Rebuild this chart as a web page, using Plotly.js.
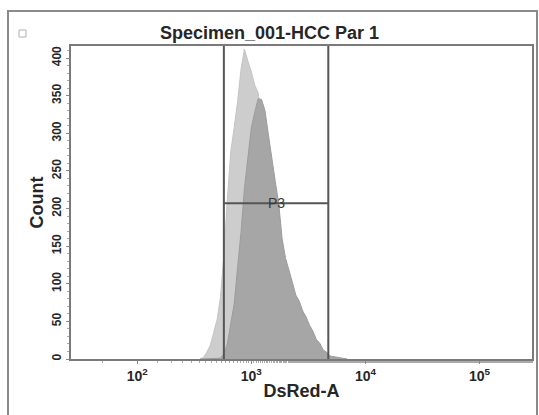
<!DOCTYPE html>
<html>
<head>
<meta charset="utf-8">
<script src="https://cdn.plot.ly/plotly-3.0.1.min.js"></script>
<style>
  html, body { margin: 0; padding: 0; background: #ffffff; }
  #chart { width: 539px; height: 415px; }
</style>
</head>
<body>
<div id="chart"></div>
<script>
// Histogram bin centres (log10 of DsRed-A)
const binLog = [2.55, 2.58, 2.61, 2.64, 2.67, 2.70, 2.73, 2.76, 2.79, 2.82,
                2.85, 2.88, 2.91, 2.94, 2.97, 3.00, 3.03, 3.06, 3.09, 3.12,
                3.15, 3.18, 3.21, 3.24, 3.27, 3.30, 3.33, 3.36, 3.39, 3.42,
                3.45, 3.48, 3.51, 3.54, 3.57, 3.60, 3.63, 3.66, 3.69, 3.72,
                3.75, 3.78, 3.81, 3.84];
// Light grey population (counts)
const countLight = [0, 2, 9, 18, 35, 52, 82, 138, 212, 275,
                    308, 342, 385, 412, 396, 382, 364, 354, 318, 287,
                    248, 217, 183, 157, 126, 107, 84, 69, 53, 43,
                    31, 25, 16, 12, 8, 5, 3, 2, 1, 0,
                    0, 0, 0, 0];
// Dark grey population (counts)
const countDark = [0, 0, 0, 0, 0, 0, 1, 7, 20, 47,
                   73, 122, 168, 227, 268, 307, 328, 346, 345, 330,
                   298, 270, 236, 207, 160, 134, 116, 102, 85, 77,
                   64, 56, 45, 37, 26, 21, 12, 9, 4, 3,
                   2, 2, 1, 0];
// Gate P3
const gateX = [575, 4730];
const gateY = 207;
const gateLabel = "P3";
const gateLabelX = 1656;

const xTickVals = [100, 1000, 10000, 100000];
const xTickText = ["10<sup>2</sup>", "10<sup>3</sup>", "10<sup>4</sup>", "10<sup>5</sup>"];
const yTickVals = [0, 50, 100, 150, 200, 250, 300, 350, 400];

const xs = binLog.map(v => Math.pow(10, v));
const FONT = 'Liberation Sans, Arial, sans-serif';
const TXT = '#262626';

const traces = [
  {
    x: xs, y: countLight, type: 'scatter', mode: 'lines',
    line: { shape: 'linear', width: 1, color: '#c4c4c4' },
    fill: 'tozeroy', fillcolor: '#cdcdcd', hoverinfo: 'skip', showlegend: false
  },
  {
    x: xs, y: countDark, type: 'scatter', mode: 'lines',
    line: { shape: 'linear', width: 1, color: '#9c9c9c' },
    fill: 'tozeroy', fillcolor: '#a6a6a6', hoverinfo: 'skip', showlegend: false
  },
  // gate lines
  { x: [gateX[0], gateX[0]], y: [0, 416], type: 'scatter', mode: 'lines',
    line: { color: '#555555', width: 2 }, hoverinfo: 'skip', showlegend: false },
  { x: [gateX[1], gateX[1]], y: [0, 416], type: 'scatter', mode: 'lines',
    line: { color: '#555555', width: 2 }, hoverinfo: 'skip', showlegend: false },
  { x: gateX, y: [gateY, gateY], type: 'scatter', mode: 'lines',
    line: { color: '#555555', width: 2 }, hoverinfo: 'skip', showlegend: false }
];

const layout = {
  width: 539, height: 415,
  margin: { l: 71, r: 7, t: 46, b: 56 },
  paper_bgcolor: '#ffffff', plot_bgcolor: '#ffffff',
  font: { family: FONT, color: TXT },
  title: {
    text: 'Specimen_001-HCC Par 1',
    font: { size: 18, color: TXT, family: FONT, weight: 'bold' },
    xref: 'container', x: 0.5, xanchor: 'center',
    yref: 'container', y: 1 - 33 / 415, yanchor: 'middle'
  },
  xaxis: {
    type: 'log', range: [1.42, 5.46],
    showgrid: false, zeroline: false,
    showline: true, mirror: true, linecolor: '#7a7a7a', linewidth: 2,
    tickmode: 'array', tickvals: xTickVals, ticktext: xTickText,
    ticks: 'outside', ticklen: 3, tickcolor: '#888888',
    tickfont: { size: 14, color: TXT, weight: 'bold' },
    minor: { ticks: 'outside', ticklen: 2, tickcolor: '#aaaaaa', showgrid: false },
    title: { text: 'DsRed-A', font: { size: 18, color: TXT, weight: 'bold' }, standoff: 2 }
  },
  yaxis: {
    range: [0, 416],
    showgrid: false, zeroline: false,
    showline: true, mirror: true, linecolor: '#7a7a7a', linewidth: 2,
    tickmode: 'array', tickvals: yTickVals,
    tickangle: -90,
    ticks: 'outside', ticklen: 3, tickcolor: '#888888',
    tickfont: { size: 12, color: TXT, weight: 'bold' },
    minor: { dtick: 10, ticks: 'outside', ticklen: 2, tickcolor: '#aaaaaa', showgrid: false },
    title: { text: 'Count', font: { size: 18, color: TXT, weight: 'bold' }, standoff: 2 }
  },
  annotations: [
    { x: Math.log10(gateLabelX), y: gateY, xref: 'x', yref: 'y', text: gateLabel,
      showarrow: false, font: { size: 14, color: '#3a3a3a' }, xanchor: 'center', yanchor: 'middle' }
  ],
  shapes: [
    // outer window frame
    { type: 'rect', xref: 'paper', yref: 'paper',
      x0: (8 - 71) / 461, x1: (537 - 71) / 461, y0: (359 - 430) / 313, y1: (359 - 11) / 313,
      line: { color: '#8a8a8a', width: 2 }, fillcolor: 'rgba(0,0,0,0)', layer: 'below' },
    // small window icon
    { type: 'rect', xref: 'paper', yref: 'paper',
      x0: (19 - 71) / 461, x1: (26 - 71) / 461, y0: (359 - 37) / 313, y1: (359 - 30) / 313,
      line: { color: '#b0b0b0', width: 1 }, fillcolor: 'rgba(0,0,0,0)' }
  ]
};

Plotly.newPlot('chart', traces, layout, { displayModeBar: false, staticPlot: true });
</script>
</body>
</html>
